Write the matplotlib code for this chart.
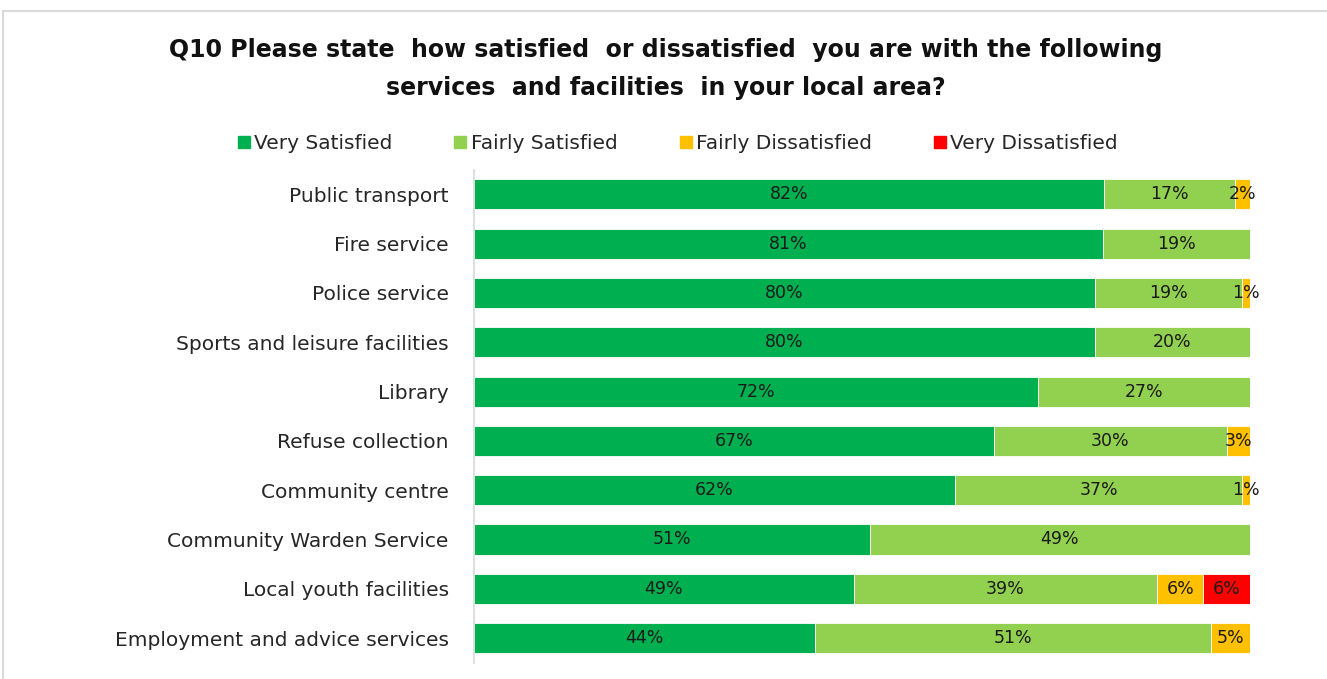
"""
Q10 satisfaction with local services - 100% stacked horizontal bars.
"""

import matplotlib
matplotlib.use("Agg")
import matplotlib.pyplot as plt
from matplotlib.lines import Line2D
import numpy as np

# Data (percent, as labelled on the chart)
services = [
    "Public transport",
    "Fire service",
    "Police service",
    "Sports and leisure facilities",
    "Library",
    "Refuse collection",
    "Community centre",
    "Community Warden Service",
    "Local youth facilities",
    "Employment and advice services",
]
very_satisfied = [82, 81, 80, 80, 72, 67, 62, 51, 49, 44]
fairly_satisfied = [17, 19, 19, 20, 27, 30, 37, 49, 39, 51]
fairly_dissatisfied = [2, 0, 1, 0, 0, 3, 1, 0, 6, 5]
very_dissatisfied = [0, 0, 0, 0, 0, 0, 0, 0, 6, 0]

series_names = ["Very Satisfied", "Fairly Satisfied", "Fairly Dissatisfied", "Very Dissatisfied"]
colors = ["#00B050", "#92D050", "#FFC000", "#FF0000"]

plt.rcParams["font.family"] = ["DejaVu Sans"]

fig = plt.figure(figsize=(13.27, 6.79), dpi=100)
ax = fig.add_axes([0.357, 0.024, 0.585, 0.726])

data = np.array([very_satisfied, fairly_satisfied, fairly_dissatisfied, very_dissatisfied], dtype=float)
totals = data.sum(axis=0)
shares = data / totals * 100  # 100% stacked

y = np.arange(len(services))
left = np.zeros(len(services))
for vals, raw, name, col in zip(shares, data, series_names, colors):
    ax.barh(y, vals, left=left, height=0.61, color=col, label=name,
            edgecolor="white", linewidth=0.6)
    for yi, (l, w, r) in enumerate(zip(left, vals, raw)):
        if r > 0:
            ax.text(l + w / 2, yi, f"{int(r)}%", ha="center", va="center",
                    fontsize=12.5, color="#1a1a1a")
    left += vals

ax.set_xlim(0, 100)
ax.set_ylim(len(services) - 0.5, -0.5)
ax.set_yticks(y)
ax.set_yticklabels(services, fontsize=14.5, color="#262626")
ax.tick_params(axis="y", length=0, pad=18)
ax.set_xticks([])
for side in ["top", "right", "bottom"]:
    ax.spines[side].set_visible(False)
ax.spines["left"].set_color("#d9d9d9")
ax.spines["left"].set_linewidth(1.2)

# Title
fig.text(0.502, 0.926, "Q10 Please state  how satisfied  or dissatisfied  you are with the following",
         ha="center", va="center", fontsize=17, fontweight="bold", color="#111111")
fig.text(0.502, 0.870, "services  and facilities  in your local area?",
         ha="center", va="center", fontsize=17, fontweight="bold", color="#111111")

# Legend
handles = [Line2D([0], [0], marker="s", linestyle="", markersize=8,
                  markerfacecolor=c, markeredgecolor=c) for c in colors]
fig.legend(handles, series_names, loc="center", bbox_to_anchor=(0.51, 0.789),
           ncol=4, frameon=False, fontsize=14.5, handletextpad=0.1,
           columnspacing=3.0, handlelength=0.8, labelcolor="#262626")

# Chart frame (top and left edges visible)
fig.add_artist(Line2D([3 / 1327, 1], [1 - 11 / 679, 1 - 11 / 679],
                      transform=fig.transFigure, color="#d9d9d9", linewidth=1.5))
fig.add_artist(Line2D([3 / 1327, 3 / 1327], [0, 1 - 11 / 679],
                      transform=fig.transFigure, color="#d9d9d9", linewidth=1.5))

fig.savefig("out.png", dpi=100, facecolor="white")
